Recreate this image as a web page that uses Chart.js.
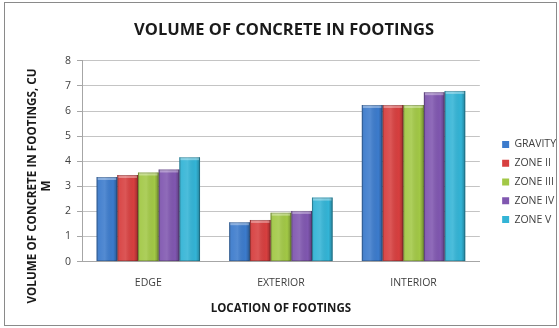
<!DOCTYPE html>
<html>
<head>
<meta charset="utf-8">
<script src="https://cdn.jsdelivr.net/npm/chart.js@4/dist/chart.umd.min.js"></script>
<style>
  html, body { margin: 0; padding: 0; background: #fff; }
  #frame { position: absolute; left: 4px; top: 2px; width: 551px; height: 322px; border: 1px solid #8a8a8a; }
  #wrap { position: absolute; left: 0; top: 0; width: 559px; height: 328px; }
</style>
</head>
<body>
<div id="frame"></div>
<div id="wrap"><canvas id="c" width="559" height="328"></canvas></div>
<script>
// Footing locations and concrete volumes (cu m) per seismic case
const locations = ['EDGE', 'EXTERIOR', 'INTERIOR'];
const seriesNames = ['GRAVITY', 'ZONE II', 'ZONE III', 'ZONE IV', 'ZONE V'];
const gravity = [3.37, 1.57, 6.24];
const zone2   = [3.45, 1.66, 6.24];
const zone3   = [3.55, 1.95, 6.24];
const zone4   = [3.67, 2.02, 6.75];
const zone5   = [4.16, 2.55, 6.80];
const yTicks  = [0, 1, 2, 3, 4, 5, 6, 7, 8];
const yTitleLines = ['VOLUME OF CONCRETE IN FOOTINGS, CU', 'M'];

const seriesValues = [gravity, zone2, zone3, zone4, zone5];
const seriesColors = ['#3c7bcc', '#d73f3f', '#a2c846', '#8057b0', '#33b4d6'];

const font = "'Open Sans', Lato, sans-serif";

// Adds a soft rounded-column sheen on top of each bar
const sheen = {
  id: 'sheen',
  afterDatasetsDraw(chart) {
    const ctx = chart.ctx;
    chart.data.datasets.forEach((ds, i) => {
      const meta = chart.getDatasetMeta(i);
      meta.data.forEach(bar => {
        const left = bar.x - bar.width / 2, right = bar.x + bar.width / 2;
        const top = bar.y, bottom = bar.base;
        const g = ctx.createLinearGradient(left, 0, right, 0);
        g.addColorStop(0, 'rgba(0,0,0,0.18)');
        g.addColorStop(0.12, 'rgba(255,255,255,0.06)');
        g.addColorStop(0.4, 'rgba(255,255,255,0.12)');
        g.addColorStop(0.8, 'rgba(0,0,0,0.0)');
        g.addColorStop(1, 'rgba(0,0,0,0.28)');
        ctx.save();
        ctx.fillStyle = g;
        ctx.fillRect(left, top, right - left, bottom - top);
        ctx.fillStyle = 'rgba(255,255,255,0.35)';
        ctx.fillRect(left + 1, top, right - left - 2, 3);
        ctx.strokeStyle = 'rgba(0,0,0,0.2)';
        ctx.lineWidth = 1;
        ctx.strokeRect(left + 0.5, top + 0.5, right - left - 1, bottom - top - 1);
        ctx.restore();
      });
    });
  }
};

// Places the legend beside the plot and draws the two-line vertical axis title
const frameText = {
  id: 'frameText',
  afterLayout(chart) {
    const lg = chart.legend;
    if (!lg) return;
    const dx = chart.chartArea.right + 14 - lg.left;
    const dy = 24;
    lg.left += dx; lg.right += dx;
    lg.top += dy; lg.bottom += dy;
  },
  afterDraw(chart) {
    const ctx = chart.ctx;
    ctx.save();
    ctx.fillStyle = '#1a1a1a';
    ctx.font = "bold 11.7px " + font;
    ctx.textAlign = 'center';
    ctx.textBaseline = 'middle';
    const cy = 186;
    [33, 47].forEach((x, i) => {
      ctx.save();
      ctx.translate(x, cy);
      ctx.rotate(-Math.PI / 2);
      ctx.fillText(yTitleLines[i], 0, 0);
      ctx.restore();
    });
    ctx.restore();
  }
};

new Chart(document.getElementById('c'), {
  type: 'bar',
  data: {
    labels: locations,
    datasets: seriesNames.map((name, i) => ({
      label: name,
      data: seriesValues[i],
      backgroundColor: seriesColors[i],
      borderWidth: 0,
      categoryPercentage: 0.78,
      barPercentage: 1.0
    }))
  },
  options: {
    responsive: false,
    animation: false,
    devicePixelRatio: 1,
    layout: { padding: { left: 16, right: 7, top: 0, bottom: 12 } },
    plugins: {
      title: {
        display: true,
        text: 'VOLUME OF CONCRETE IN FOOTINGS',
        color: '#1a1a1a',
        font: { family: font, size: 16.5, weight: 'bold', lineHeight: 1.2 },
        padding: { top: 20, bottom: 21 }
      },
      legend: {
        position: 'right',
        align: 'center',
        labels: {
          boxWidth: 7,
          boxHeight: 7,
          padding: 8.3,
          color: '#404040',
          font: { family: font, size: 10.5 }
        }
      },
      tooltip: { enabled: false }
    },
    scales: {
      x: {
        grid: { display: false, drawTicks: false },
        border: { color: '#a6a6a6' },
        ticks: { color: '#404040', font: { family: font, size: 10.5 }, padding: 15 },
        title: {
          display: true,
          text: 'LOCATION OF FOOTINGS',
          color: '#1a1a1a',
          font: { family: font, size: 11.5, weight: 'bold', lineHeight: 1.2 },
          padding: { top: -2, bottom: 0 }
        }
      },
      y: {
        min: 0,
        max: 8,
        afterBuildTicks(scale) { scale.ticks = yTicks.map(v => ({ value: v })); },
        afterFit(scale) { scale.width = 66; },
        grid: { color: '#c4c4c4', tickLength: 5, tickColor: '#a6a6a6' },
        border: { color: '#a6a6a6' },
        ticks: { color: '#404040', font: { family: font, size: 10.5 }, padding: 6 }
      }
    }
  },
  plugins: [sheen, frameText]
});
</script>
</body>
</html>
